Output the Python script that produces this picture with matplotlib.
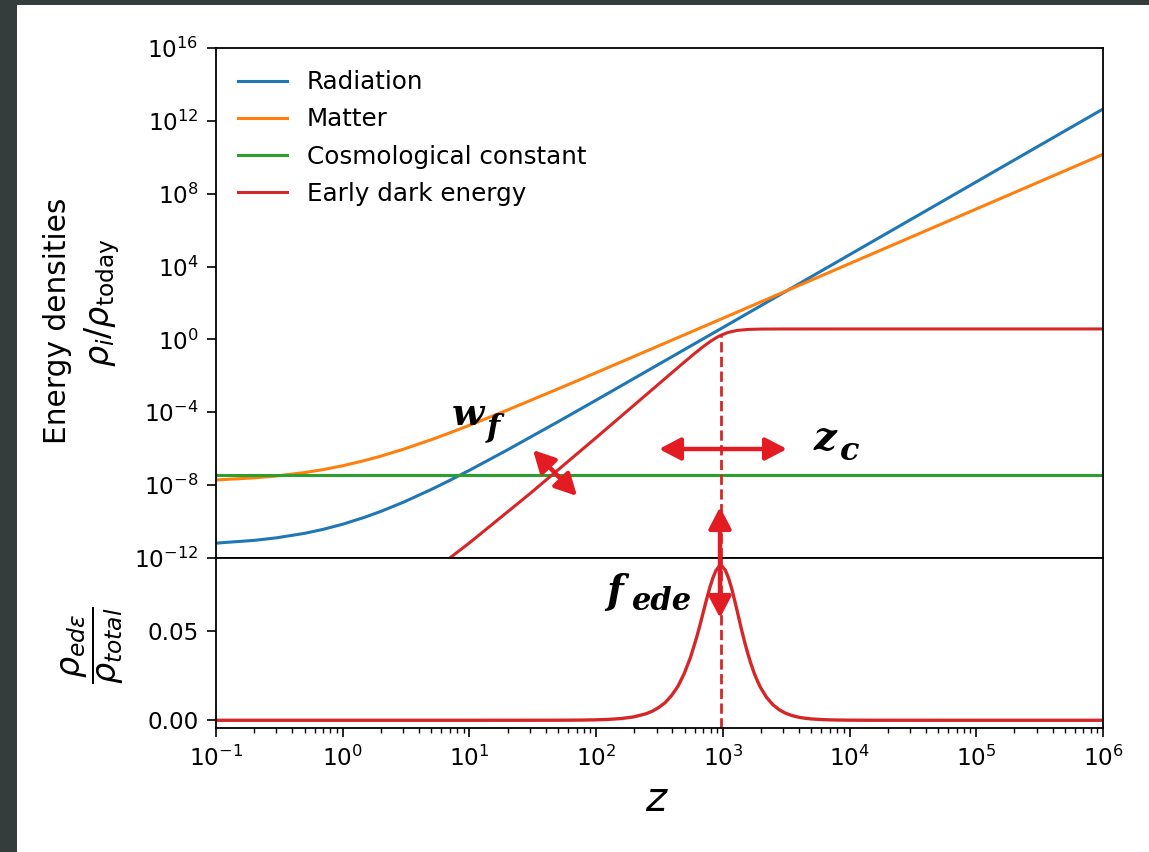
import matplotlib
matplotlib.use('Agg')
import matplotlib.pyplot as plt
from matplotlib.patches import FancyArrowPatch, Rectangle, ArrowStyle
from matplotlib.ticker import NullLocator, FixedLocator, FormatStrFormatter

# ---------------- data ----------------
z_bg = [0.1, 0.2, 0.3, 0.5, 0.7, 1, 1.5, 2, 3, 5, 7, 10, 20, 50, 100,
        1e3, 1e4, 1e5, 1e6]
rho_radiation = [6.54e-12, 9.27e-12, 1.28e-11, 2.26e-11, 3.73e-11, 7.15e-11,
                 1.75e-10, 3.62e-10, 1.14e-9, 5.79e-9, 1.83e-8, 6.54e-8,
                 8.69e-7, 3.02e-5, 4.65e-4, 4.49, 4.47e4, 4.47e8, 4.47e12]
rho_matter = [1.93e-8, 2.51e-8, 3.19e-8, 4.89e-8, 7.12e-8, 1.16e-7,
              2.27e-7, 3.92e-7, 9.28e-7, 3.13e-6, 7.42e-6, 1.93e-5,
              1.34e-4, 1.92e-3, 1.49e-2, 14.5, 1.45e4, 1.45e7, 1.45e10]
z_lambda = [0.1, 1e6]
rho_lambda = [3.6e-8, 3.6e-8]
z_ede = [4, 7, 10, 30, 100, 300, 400, 500, 600, 700, 800, 900, 962,
         1100, 1300, 1600, 2000, 3000, 1e4, 1e6]
rho_ede = [6.0e-14, 1.0e-12, 6.76e-12, 3.39e-9, 4.05e-6, 2.84e-3, 1.58e-2,
           5.94e-2, 0.172, 0.404, 0.794, 1.32, 1.68, 2.42, 3.13, 3.55,
           3.70, 3.755, 3.76, 3.76]
z_c = 962
rho_ede_at_zc = rho_ede[z_ede.index(z_c)]

z_frac = [0.1, 10, 50, 62, 78, 98, 124, 156, 197, 248, 278, 312, 351, 393,
          442, 495, 556, 624, 661, 700, 742, 786, 833, 882, 934, 962, 990,
          1049, 1111, 1178, 1247, 1322, 1399, 1482, 1570, 1664, 1761, 1867,
          1976, 2218, 2488, 2792, 3133, 3515, 3944, 4426, 4966, 6252, 7871,
          9909, 15706, 1e5, 1e6]
f_ede = [0.0, 0.0, 0.00003, 0.00006, 0.000122, 0.000241, 0.000477,
         0.000942, 0.001855, 0.00364, 0.00509, 0.00711, 0.00988, 0.01371,
         0.01893, 0.02595, 0.03514, 0.04667, 0.05326, 0.06012, 0.06702,
         0.07352, 0.07915, 0.08344, 0.08571, 0.0860, 0.08571, 0.08344,
         0.0790, 0.07303, 0.06596, 0.05844, 0.05094, 0.04388, 0.03742,
         0.03159, 0.02655, 0.02216, 0.01843, 0.01265, 0.0086, 0.00581,
         0.0039, 0.00261, 0.00174, 0.001155, 0.000764, 0.000331, 0.000142,
         0.00006, 0.00001, 0.0, 0.0]

labels = ['Radiation', 'Matter', 'Cosmological constant', 'Early dark energy']
colors = ['#1f77b4', '#ff7f0e', '#2ca02c', '#d62728']
y_major = [1e-12, 1e-8, 1e-4, 1e0, 1e4, 1e8, 1e12, 1e16]
x_major = [1e-1, 1e0, 1e1, 1e2, 1e3, 1e4, 1e5, 1e6]

# ---------------- figure ----------------
W, H = 1149, 852
fig = plt.figure(figsize=(W / 100, H / 100), dpi=100)
fig.patch.set_facecolor('white')


def fx(px):
    return px / W


def fy(py):
    return 1 - py / H


# dark screenshot border (top and left)
fig.add_artist(Rectangle((0, fy(5)), 1, 1 - fy(5), transform=fig.transFigure,
                         facecolor='#353c3c', edgecolor='none', zorder=0))
fig.add_artist(Rectangle((0, 0), fx(17), 1, transform=fig.transFigure,
                         facecolor='#353c3c', edgecolor='none', zorder=0))

ax1 = fig.add_axes([fx(216), fy(558), fx(1103) - fx(216), fy(48) - fy(558)])
ax2 = fig.add_axes([fx(216), fy(728), fx(1103) - fx(216), fy(558) - fy(728)],
                   sharex=ax1)

lw = 2.2
ax1.plot(z_bg, rho_radiation, color=colors[0], lw=lw, label=labels[0])
ax1.plot(z_bg, rho_matter, color=colors[1], lw=lw, label=labels[1])
ax1.plot(z_lambda, rho_lambda, color=colors[2], lw=lw, label=labels[2])
ax1.plot(z_ede, rho_ede, color=colors[3], lw=lw, label=labels[3])
ax1.vlines(z_c, 1e-12, rho_ede_at_zc, colors=colors[3], linestyles='--', lw=2)

ax1.set_xscale('log')
ax1.set_yscale('log')
ax1.set_xlim(1e-1, 1e6)
ax1.set_ylim(1e-12, 1e16)
ax1.yaxis.set_major_locator(FixedLocator(y_major))
ax1.yaxis.set_minor_locator(NullLocator())
ax1.tick_params(axis='x', which='both', bottom=False, labelbottom=False)

ax1.legend(loc='upper left', frameon=False, fontsize=17.7, labelspacing=0.54,
           handlelength=2.0, handletextpad=0.8, borderaxespad=0.5)

ax2.plot(z_frac, f_ede, color=colors[3], lw=2.4)
ax2.axvline(z_c, color=colors[3], ls='--', lw=2)
ax2.set_ylim(-0.0043, 0.0904)
ax2.yaxis.set_major_locator(FixedLocator([0.0, 0.05]))
ax2.yaxis.set_major_formatter(FormatStrFormatter('%.2f'))
ax2.xaxis.set_major_locator(FixedLocator(x_major))

for ax in (ax1, ax2):
    for s in ax.spines.values():
        s.set_linewidth(1.3)
    ax.tick_params(which='major', length=6.5, width=1.2, labelsize=16.7, pad=6)
    ax.tick_params(which='minor', length=3.5, width=1.0)

# axis labels
fig.text(fx(58), fy(321), 'Energy densities', rotation=90, ha='center',
         va='center', fontsize=21.3)
fig.text(fx(102), fy(303), r'$\rho_i/\rho_{\rm today}$', rotation=90,
         ha='center', va='center', fontsize=24)
fig.text(fx(93), fy(645), r'$\dfrac{\rho_{ed\epsilon}}{\rho_{total}}$',
         rotation=90, ha='center', va='center', fontsize=24)
fig.text(fx(657), fy(800), r'$z$', ha='center', va='center', fontsize=29)

# annotation texts
afont = dict(family='DejaVu Serif', weight='bold', style='italic',
             color='black', zorder=12)
fig.text(fx(452), fy(425), 'w', fontsize=27, ha='left', va='baseline', **afont)
fig.text(fx(487), fy(436), 'f', fontsize=22, ha='left', va='baseline', **afont)
fig.text(fx(814), fy(450), 'z', fontsize=29, ha='left', va='baseline', **afont)
fig.text(fx(840), fy(460), 'c', fontsize=23, ha='left', va='baseline', **afont)
fig.text(fx(606), fy(603), 'f', fontsize=28, ha='left', va='baseline', **afont)
fig.text(fx(632), fy(610), 'ede', fontsize=22, ha='left', va='baseline', **afont)

# arrows
arrow_color = '#e31b23'
style = ArrowStyle('<|-|>', head_length=0.65, head_width=0.34)
for (x0, y0), (x1, y1) in [((533, 450), (577, 496)),
                           ((659, 449), (787, 449)),
                           ((720, 507), (720, 618))]:
    a = FancyArrowPatch((fx(x0), fy(y0)), (fx(x1), fy(y1)),
                        transform=fig.transFigure, arrowstyle=style,
                        mutation_scale=20, lw=3.2, color=arrow_color,
                        shrinkA=0, shrinkB=0, zorder=11)
    fig.add_artist(a)

fig.savefig('out.png', dpi=100)
